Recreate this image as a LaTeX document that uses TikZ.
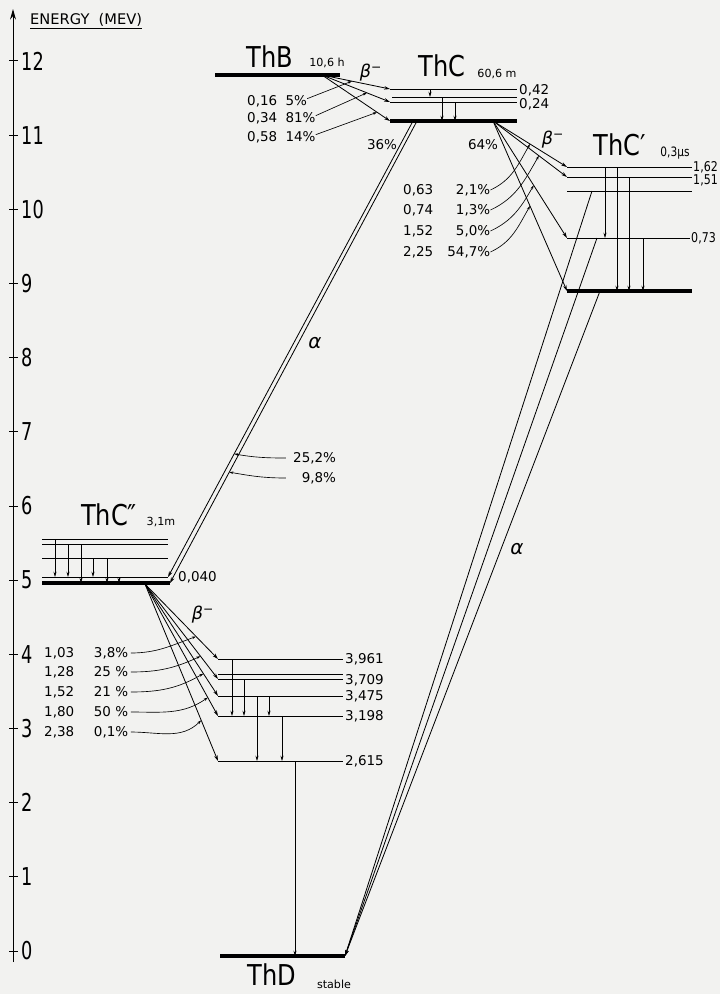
\documentclass[tikz,border=0pt]{standalone}
\usepackage{fontspec}
\setmainfont{DejaVu Sans}
\newfontfamily\nucfont[FakeStretch=0.84]{DejaVu Sans}
\newfontfamily\axisfont[FakeStretch=0.72]{DejaVu Sans}
\newfontfamily\narrowfont[FakeStretch=0.82]{DejaVu Sans}
\usetikzlibrary{arrows.meta,calc}
\definecolor{paper}{RGB}{242,242,240}

\begin{document}
\begin{tikzpicture}[
  x=0.03cm,y=-0.03cm,
  lvl/.style={line width=0.7pt},
  gnd/.style={line width=3.6pt},
  arr/.style={-{Stealth[length=5pt,width=3pt]}, line width=0.7pt},
  gam/.style={-{Stealth[length=4.5pt,width=2.6pt]}, line width=0.55pt},
  ptr/.style={-{Stealth[length=3.5pt,width=2.2pt]}, line width=0.55pt},
  nuc/.style={font=\nucfont\fontsize{24.5}{27}\selectfont, inner sep=0pt},
  half/.style={font=\fontsize{9.5}{11}\selectfont, inner sep=0pt},
  val/.style={font=\fontsize{11.5}{13}\selectfont, inner sep=0pt, anchor=west},
  brn/.style={font=\fontsize{11.5}{13}\selectfont, inner sep=0pt, anchor=west, text width=#1, align=left},
  axnum/.style={font=\axisfont\fontsize{21}{23}\selectfont, inner sep=0pt, anchor=west},
  greek/.style={font=\itshape\fontsize{15}{17}\selectfont, inner sep=0pt}
]
\fill[paper] (0,0) rectangle (720,994);
\useasboundingbox (0,0) rectangle (720,994);

% energy axis
\draw[line width=0.8pt, -{Stealth[length=9pt,width=5pt]}] (13,962) -- (13,9);
\foreach \e in {0,...,12}{
  \draw[line width=0.8pt] (9,{951-74.17*\e}) -- (18,{951-74.17*\e});
  \node[axnum] (e\e) at (21,{951-74.17*\e}) {\e};
}
\node[font=\fontsize{12.5}{14}\selectfont, inner sep=0pt, anchor=west] (unit) at (30,21) {\underline{ENERGY\ \ (MEV)}};

% levels
\draw[gnd] (215,75) coordinate (thbL) -- (340,75) coordinate (thbR);
\draw[lvl] (390,89) coordinate (thcaL) -- (517,89) coordinate (thcaR);
\draw[lvl] (392,97) coordinate (thcbL) -- (517,97) coordinate (thcbR);
\draw[lvl] (390,102) coordinate (thccL) -- (517,102) coordinate (thccR);
\draw[gnd] (390,121) coordinate (thcL) -- (517,121) coordinate (thcR);
\draw[lvl] (567,167) coordinate (thcpaL) -- (692,167) coordinate (thcpaR);
\draw[lvl] (567,177) coordinate (thcpbL) -- (692,177) coordinate (thcpbR);
\draw[lvl] (567,191) coordinate (thcpcL) -- (692,191) coordinate (thcpcR);
\draw[lvl] (567,238) coordinate (thcpdL) -- (690,238) coordinate (thcpdR);
\draw[gnd] (567,291) coordinate (thcpL) -- (692,291) coordinate (thcpR);
\draw[lvl] (42,539) coordinate (thcppaL) -- (168,539) coordinate (thcppaR);
\draw[lvl] (42,544) coordinate (thcppbL) -- (168,544) coordinate (thcppbR);
\draw[lvl] (42,558) coordinate (thcppcL) -- (168,558) coordinate (thcppcR);
\draw[lvl] (42,577) coordinate (thcppdL) -- (168,577) coordinate (thcppdR);
\draw[gnd] (42,583) coordinate (thcppL) -- (170,583) coordinate (thcppR);
\draw[lvl] (218,659) coordinate (thdaL) -- (343,659) coordinate (thdaR);
\draw[lvl] (218,674) coordinate (thdbL) -- (343,674) coordinate (thdbR);
\draw[lvl] (218,679) coordinate (thdcL) -- (343,679) coordinate (thdcR);
\draw[lvl] (218,696) coordinate (thddL) -- (343,696) coordinate (thddR);
\draw[lvl] (218,716) coordinate (thdeL) -- (343,716) coordinate (thdeR);
\draw[lvl] (218,761) coordinate (thdfL) -- (343,761) coordinate (thdfR);
\draw[gnd] (220,956) coordinate (thdL) -- (345,956) coordinate (thdR);

% nuclide names
\node[nuc] (thb) at (270,57) {ThB};
\node[half] (thbt) at (327,63) {10,6 h};
\node[nuc] (thc) at (442,66) {ThC};
\node[half] (thct) at (497,74) {60,6 m};
\node[nuc] (thcp) at (620,145) {ThC′};
\node[half, font=\narrowfont\fontsize{11}{12}\selectfont] (thcpt) at (675,153) {0,3µs};
\node[nuc] (thcpp) at (109,515) {ThC″};
\node[half] (thcppt) at (161,522) {3,1m};
\node[nuc] (thd) at (272,975) {ThD};
\node[half] (thdt) at (334,984) {stable};

% level energies
\node[val] (v42) at (519,90) {0,42};
\node[val] (v24) at (519,104) {0,24};
\node[val, font=\narrowfont\fontsize{11.5}{13}\selectfont] (v162) at (693,167) {1,62};
\node[val, font=\narrowfont\fontsize{11.5}{13}\selectfont] (v151) at (693,180) {1,51};
\node[val, font=\narrowfont\fontsize{11.5}{13}\selectfont] (v073) at (691,238) {0,73};
\node[val] (v040) at (178,577) {0,040};
\node[val] (v3961) at (345,659) {3,961};
\node[val] (v3709) at (345,680) {3,709};
\node[val] (v3475) at (345,696) {3,475};
\node[val] (v3198) at (345,716) {3,198};
\node[val] (v2615) at (345,761) {2,615};

% ThB beta
\coordinate (thbX) at (322,75);
\draw[arr] (thbX) -- (thcaL);
\draw[arr] (thbX) -- (thccL);
\draw[arr] (thbX) -- (thcL);
\node[greek] (bb) at (371,73) {β\textsuperscript{−}};
\node[val] (b1) at (247,101) {\makebox[1.15cm][l]{0,16}5\%};
\node[val] (b2) at (247,118) {\makebox[1.15cm][l]{0,34}81\%};
\node[val] (b3) at (247,137) {\makebox[1.15cm][l]{0,58}14\%};
\draw[ptr] ([yshift=2pt]b1.east) -- ($(thbX)!0.44!(thcaL)$);
\draw[ptr] ([yshift=2pt]b2.east) -- ($(thbX)!0.66!(thccL)$);
\draw[ptr] ([yshift=2pt]b3.east) -- ($(thbX)!0.81!(thcL)$);
\draw[gam] (thcaL -| 430,0) -- (thcbL -| 430,0);
\draw[gam] (thcbL -| 442,0) -- (thcL -| 442,0);
\draw[gam] (thccL -| 455,0) -- (thcL -| 455,0);

% ThC branching
\node[val, anchor=center] (p36) at (382,145) {36\%};
\node[val, anchor=center] (p64) at (483,145) {64\%};

% ThC alpha
\coordinate (alA) at (413,121);
\coordinate (alB) at (417,121);
\draw[arr] (alA) -- (thcppdR);
\draw[arr] (alB) -- (thcppR);
\node[greek, font=\itshape\fontsize{17}{19}\selectfont] (a1) at (315,343) {α};
\node[val] (r1) at (293,458) {25,2\%};
\node[val] (r2) at (293,478) {\phantom{2}9,8\%};
\draw[ptr] ([xshift=-6pt]r1.west) to[out=180,in=-10] ($(alA)!0.73!(thcppdR)$);
\draw[ptr] ([xshift=-6pt]r2.west) to[out=180,in=-10] ($(alB)!0.76!(thcppR)$);

% ThC beta
\coordinate (thcX) at (493,121);
\draw[arr] (thcX) -- (thcpaL);
\draw[arr] (thcX) -- (thcpbL);
\draw[arr] (thcX) -- (thcpdL);
\draw[arr] (thcX) -- (thcpL);
\node[greek] (bc) at (553,140) {β\textsuperscript{−}};
\node[brn=2.61cm] (c1) at (403,190) {0,63\hfill 2,1\%};
\node[brn=2.61cm] (c2) at (403,210) {0,74\hfill 1,3\%};
\node[brn=2.61cm] (c3) at (403,231) {1,52\hfill 5,0\%};
\node[brn=2.61cm] (c4) at (403,252) {2,25\hfill 54,7\%};
\draw[ptr] (c1.east) to[out=25,in=-120] ($(thcX)!0.5!(thcpaL)$);
\draw[ptr] (c2.east) to[out=25,in=-120] ($(thcX)!0.62!(thcpbL)$);
\draw[ptr] (c3.east) to[out=25,in=-120] ($(thcX)!0.55!(thcpdL)$);
\draw[ptr] (c4.east) to[out=25,in=-120] ($(thcX)!0.5!(thcpL)$);
\draw[gam] (thcpaL -| 605,0) -- (thcpdL -| 605,0);
\draw[gam] (thcpaL -| 617,0) -- (thcpL -| 617,0);
\draw[gam] (thcpbL -| 629,0) -- (thcpL -| 629,0);
\draw[gam] (thcpdL -| 643,0) -- (thcpL -| 643,0);

% ThC' alpha
\draw[arr] (thcpcL -| 592,0) -- (thdR);
\draw[arr] (thcpdL -| 597,0) -- (thdR);
\draw[arr] (thcpL -| 600,0) -- (thdR);
\node[greek, font=\itshape\fontsize{17}{19}\selectfont] (a2) at (517,549) {α};

% ThC'' gammas
\draw[gam] (thcppaL -| 55,0) -- (thcppdL -| 55,0);
\draw[gam] (thcppbL -| 68,0) -- (thcppdL -| 68,0);
\draw[gam] (thcppbL -| 81,0) -- (thcppL -| 81,0);
\draw[gam] (thcppcL -| 93,0) -- (thcppdL -| 93,0);
\draw[gam] (thcppcL -| 107,0) -- (thcppL -| 107,0);
\draw[gam] (thcppdL -| 119,0) -- (thcppL -| 119,0);

% ThC'' beta
\coordinate (thcppX) at (145,584);
\draw[arr] (thcppX) -- (thdaL);
\draw[arr] (thcppX) -- (thdcL);
\draw[arr] (thcppX) -- (thddL);
\draw[arr] (thcppX) -- (thdeL);
\draw[arr] (thcppX) -- (thdfL);
\node[greek] (bd) at (203,615) {β\textsuperscript{−}};
\node[brn=2.52cm] (d1) at (44,653) {1,03\hfill 3,8\%};
\node[brn=2.52cm] (d2) at (44,672) {1,28\hfill 25 \%};
\node[brn=2.52cm] (d3) at (44,692) {1,52\hfill 21 \%};
\node[brn=2.52cm] (d4) at (44,712) {1,80\hfill 50 \%};
\node[brn=2.52cm] (d5) at (44,732) {2,38\hfill 0,1\%};
\draw[ptr] ([xshift=2pt]d1.east) to[out=0,in=-160] ($(thcppX)!0.7!(thdaL)$);
\draw[ptr] ([xshift=2pt]d2.east) to[out=0,in=-155] ($(thcppX)!0.76!(thdcL)$);
\draw[ptr] ([xshift=2pt]d3.east) to[out=0,in=-150] ($(thcppX)!0.8!(thddL)$);
\draw[ptr] ([xshift=2pt]d4.east) to[out=0,in=-145] ($(thcppX)!0.86!(thdeL)$);
\draw[ptr] ([xshift=2pt]d5.east) to[out=0,in=-135] ($(thcppX)!0.77!(thdfL)$);

% ThD gammas
\draw[gam] (thdaL -| 232,0) -- (thdeL -| 232,0);
\draw[gam] (thdcL -| 244,0) -- (thdeL -| 244,0);
\draw[gam] (thddL -| 257,0) -- (thdfL -| 257,0);
\draw[gam] (thddL -| 269,0) -- (thdeL -| 269,0);
\draw[gam] (thdeL -| 282,0) -- (thdfL -| 282,0);
\draw[gam] (thdfL -| 295,0) -- (thdL -| 295,0);
\end{tikzpicture}
\end{document}
